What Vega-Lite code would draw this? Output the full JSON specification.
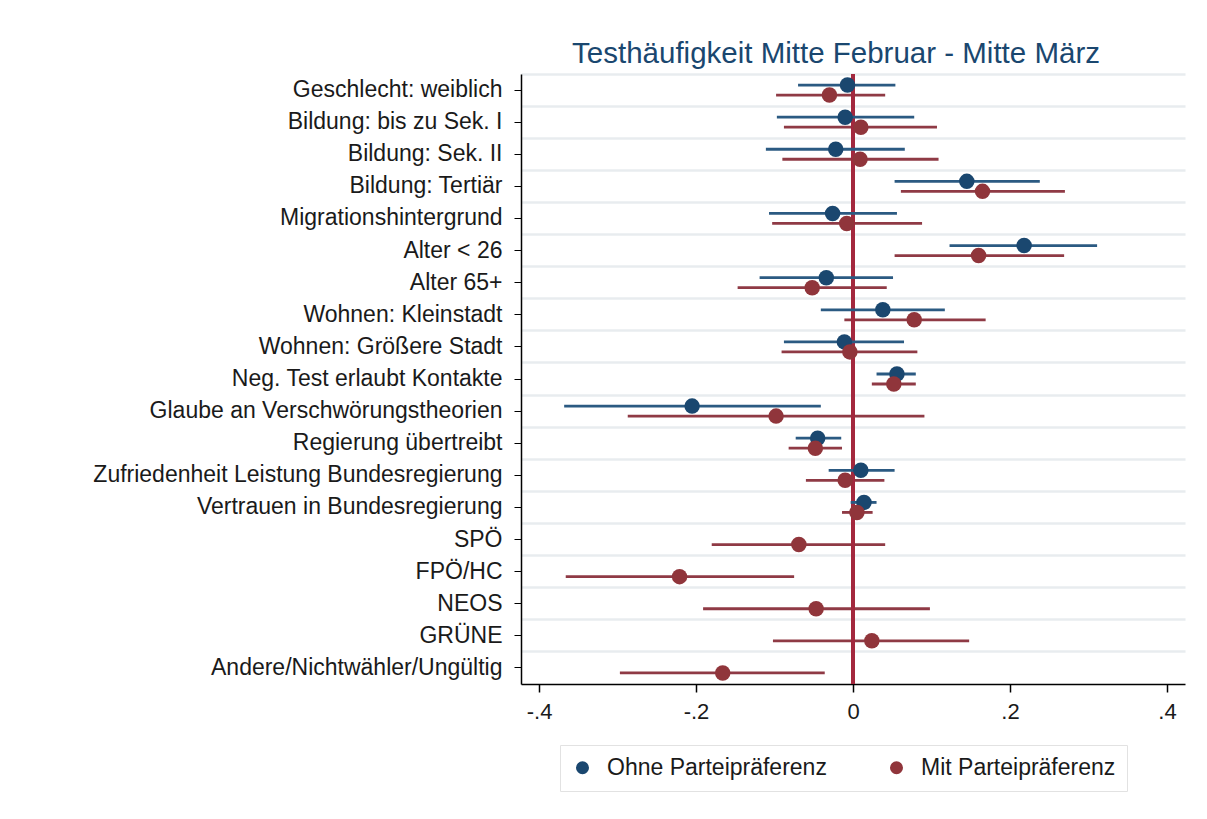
{
  "$schema": "https://vega.github.io/schema/vega-lite/v6.json",
  "autosize": {"type": "none"},
  "width": 664,
  "height": 610,
  "padding": {"left": 521, "top": 74, "right": 22, "bottom": 135},
  "background": "white",
  "config": {
    "view": {"stroke": null},
    "font": "Liberation Sans"
  },
  "title": {
    "text": "Testhäufigkeit Mitte Februar - Mitte März",
    "fontSize": 29.5,
    "font": "Liberation Sans",
    "fontWeight": "normal",
    "color": "#1a476f",
    "anchor": "middle",
    "offset": 3,
    "dx": -17
  },
  "data": {
    "values": [
      {"idx": 1, "label": "Geschlecht: weiblich", "series": "Ohne Parteipräferenz", "est": -0.007, "lo": -0.070, "hi": 0.054},
      {"idx": 1, "label": "Geschlecht: weiblich", "series": "Mit Parteipräferenz", "est": -0.030, "lo": -0.098, "hi": 0.041},
      {"idx": 2, "label": "Bildung: bis zu Sek. I", "series": "Ohne Parteipräferenz", "est": -0.010, "lo": -0.097, "hi": 0.078},
      {"idx": 2, "label": "Bildung: bis zu Sek. I", "series": "Mit Parteipräferenz", "est": 0.010, "lo": -0.088, "hi": 0.107},
      {"idx": 3, "label": "Bildung: Sek. II", "series": "Ohne Parteipräferenz", "est": -0.022, "lo": -0.111, "hi": 0.066},
      {"idx": 3, "label": "Bildung: Sek. II", "series": "Mit Parteipräferenz", "est": 0.009, "lo": -0.090, "hi": 0.109},
      {"idx": 4, "label": "Bildung: Tertiär", "series": "Ohne Parteipräferenz", "est": 0.145, "lo": 0.053, "hi": 0.238},
      {"idx": 4, "label": "Bildung: Tertiär", "series": "Mit Parteipräferenz", "est": 0.165, "lo": 0.061, "hi": 0.270},
      {"idx": 5, "label": "Migrationshintergrund", "series": "Ohne Parteipräferenz", "est": -0.026, "lo": -0.107, "hi": 0.056},
      {"idx": 5, "label": "Migrationshintergrund", "series": "Mit Parteipräferenz", "est": -0.008, "lo": -0.103, "hi": 0.088},
      {"idx": 6, "label": "Alter < 26", "series": "Ohne Parteipräferenz", "est": 0.218, "lo": 0.123, "hi": 0.311},
      {"idx": 6, "label": "Alter < 26", "series": "Mit Parteipräferenz", "est": 0.160, "lo": 0.053, "hi": 0.269},
      {"idx": 7, "label": "Alter 65+", "series": "Ohne Parteipräferenz", "est": -0.034, "lo": -0.119, "hi": 0.051},
      {"idx": 7, "label": "Alter 65+", "series": "Mit Parteipräferenz", "est": -0.052, "lo": -0.147, "hi": 0.043},
      {"idx": 8, "label": "Wohnen: Kleinstadt", "series": "Ohne Parteipräferenz", "est": 0.038, "lo": -0.041, "hi": 0.117},
      {"idx": 8, "label": "Wohnen: Kleinstadt", "series": "Mit Parteipräferenz", "est": 0.078, "lo": -0.011, "hi": 0.169},
      {"idx": 9, "label": "Wohnen: Größere Stadt", "series": "Ohne Parteipräferenz", "est": -0.011, "lo": -0.088, "hi": 0.065},
      {"idx": 9, "label": "Wohnen: Größere Stadt", "series": "Mit Parteipräferenz", "est": -0.004, "lo": -0.091, "hi": 0.082},
      {"idx": 10, "label": "Neg. Test erlaubt Kontakte", "series": "Ohne Parteipräferenz", "est": 0.056, "lo": 0.030, "hi": 0.080},
      {"idx": 10, "label": "Neg. Test erlaubt Kontakte", "series": "Mit Parteipräferenz", "est": 0.052, "lo": 0.024, "hi": 0.080},
      {"idx": 11, "label": "Glaube an Verschwörungstheorien", "series": "Ohne Parteipräferenz", "est": -0.205, "lo": -0.368, "hi": -0.041},
      {"idx": 11, "label": "Glaube an Verschwörungstheorien", "series": "Mit Parteipräferenz", "est": -0.098, "lo": -0.287, "hi": 0.091},
      {"idx": 12, "label": "Regierung übertreibt", "series": "Ohne Parteipräferenz", "est": -0.045, "lo": -0.073, "hi": -0.015},
      {"idx": 12, "label": "Regierung übertreibt", "series": "Mit Parteipräferenz", "est": -0.048, "lo": -0.082, "hi": -0.014},
      {"idx": 13, "label": "Zufriedenheit Leistung Bundesregierung", "series": "Ohne Parteipräferenz", "est": 0.010, "lo": -0.031, "hi": 0.053},
      {"idx": 13, "label": "Zufriedenheit Leistung Bundesregierung", "series": "Mit Parteipräferenz", "est": -0.010, "lo": -0.060, "hi": 0.040},
      {"idx": 14, "label": "Vertrauen in Bundesregierung", "series": "Ohne Parteipräferenz", "est": 0.014, "lo": -0.003, "hi": 0.030},
      {"idx": 14, "label": "Vertrauen in Bundesregierung", "series": "Mit Parteipräferenz", "est": 0.005, "lo": -0.014, "hi": 0.025},
      {"idx": 15, "label": "SPÖ", "series": "Mit Parteipräferenz", "est": -0.069, "lo": -0.180, "hi": 0.041},
      {"idx": 16, "label": "FPÖ/HC", "series": "Mit Parteipräferenz", "est": -0.221, "lo": -0.366, "hi": -0.075},
      {"idx": 17, "label": "NEOS", "series": "Mit Parteipräferenz", "est": -0.047, "lo": -0.191, "hi": 0.098},
      {"idx": 18, "label": "GRÜNE", "series": "Mit Parteipräferenz", "est": 0.024, "lo": -0.102, "hi": 0.148},
      {"idx": 19, "label": "Andere/Nichtwähler/Ungültig", "series": "Mit Parteipräferenz", "est": -0.166, "lo": -0.297, "hi": -0.036}
    ]
  },
  "resolve": {"axis": {"y": "independent"}},
  "layer": [
    {
      "transform": [{"filter": "datum.series === 'Mit Parteipräferenz'"}],
      "mark": {"type": "rule", "color": "#8f3a45", "strokeWidth": 2.8, "yOffset": 5},
      "encoding": {
        "y": {
          "field": "label", "type": "nominal", "sort": {"field": "idx"},
          "scale": {"paddingInner": 0, "paddingOuter": 0},
          "axis": {
            "orient": "right", "grid": true, "bandPosition": 0, "gridColor": "#e8ecef", "gridWidth": 2.5,
            "labels": false, "ticks": false, "domain": false, "title": null
          }
        },
        "x": {
          "field": "lo", "type": "quantitative",
          "scale": {"domain": [-0.423, 0.423], "nice": false, "zero": false},
          "axis": {
            "title": null, "grid": false, "values": [-0.4, -0.2, 0, 0.2, 0.4],
            "domainColor": "#000", "domainWidth": 1.5, "tickColor": "#000", "tickSize": 8,
            "tickWidth": 1.5, "labelFontSize": 22, "labelColor": "#1a1a1a", "labelFont": "Liberation Sans",
            "labelPadding": 9,
            "labelExpr": "datum.value === 0 ? '0' : replace(replace(format(datum.value, '.1f'), '0.', '.'), '\u2212', '-')"
          }
        },
        "x2": {"field": "hi"}
      }
    },
    {
      "mark": {"type": "rule", "color": "#a3283f", "strokeWidth": 2.5},
      "encoding": {
        "x": {"datum": 0, "type": "quantitative"}
      }
    },
    {
      "transform": [{"filter": "datum.series === 'Ohne Parteipräferenz'"}],
      "mark": {"type": "rule", "color": "#2b5a82", "strokeWidth": 2.8, "yOffset": -5},
      "encoding": {
        "y": {
          "field": "label", "type": "nominal", "sort": {"field": "idx"},
          "axis": {
            "title": null, "grid": false, "domainColor": "#000", "domainWidth": 1.5,
            "tickColor": "#000", "tickSize": 7, "labelFontSize": 23, "labelColor": "#1a1a1a",
            "labelFont": "Liberation Sans", "labelPadding": 12, "labelLimit": 600
          }
        },
        "x": {"field": "lo", "type": "quantitative"},
        "x2": {"field": "hi"}
      }
    },
    {
      "transform": [{"filter": "datum.series === 'Ohne Parteipräferenz'"}],
      "mark": {"type": "point", "filled": true, "opacity": 1, "size": 240, "shape": "circle", "yOffset": -5},
      "encoding": {
        "y": {"field": "label", "type": "nominal", "sort": {"field": "idx"}, "axis": null},
        "x": {"field": "est", "type": "quantitative"},
        "color": {
          "field": "series", "type": "nominal",
          "scale": {"domain": ["Ohne Parteipräferenz", "Mit Parteipräferenz"], "range": ["#1a476f", "#90353b"]},
          "legend": {
            "title": null, "orient": "none", "legendX": 39, "legendY": 671, "direction": "horizontal",
            "symbolType": "circle", "symbolSize": 170, "labelFontSize": 23, "labelColor": "#1a1a1a",
            "labelFont": "Liberation Sans", "columnPadding": 58, "labelOffset": 13,
            "strokeColor": "#e2e2e2", "padding": 11, "labelLimit": 400, "fillColor": "white"
          }
        }
      }
    },
    {
      "transform": [{"filter": "datum.series === 'Mit Parteipräferenz'"}],
      "mark": {"type": "point", "filled": true, "opacity": 1, "size": 240, "shape": "circle", "yOffset": 5},
      "encoding": {
        "y": {"field": "label", "type": "nominal", "sort": {"field": "idx"}, "axis": null},
        "x": {"field": "est", "type": "quantitative"},
        "color": {"field": "series", "type": "nominal"}
      }
    }
  ]
}
